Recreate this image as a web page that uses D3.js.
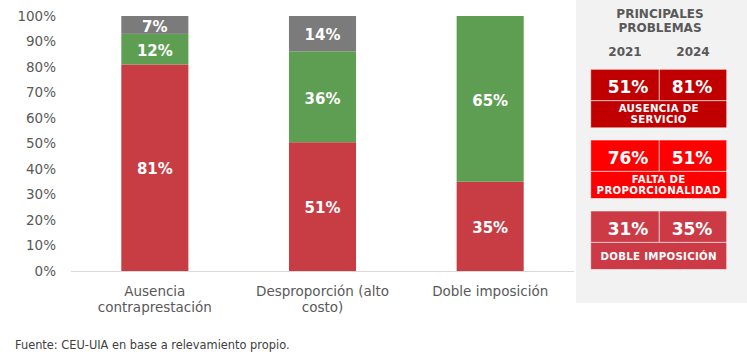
<!DOCTYPE html>
<html><head><meta charset="utf-8">
<script src="https://cdn.jsdelivr.net/npm/d3@7"></script>
<style>body{margin:0;background:#fff;}svg{display:block;font-family:"DejaVu Sans",Verdana,sans-serif;}</style>
</head><body>
<script>
const categories = [["Ausencia","contraprestación"],["Desproporción (alto","costo)"],["Doble imposición"]];
const redVals = [81, 51, 35];
const greenVals = [12, 36, 65];
const grayVals = [7, 14, 0];
const yTicks = [0,10,20,30,40,50,60,70,80,90,100];
const panelYears = ["2021","2024"];
const panelTitles = [["AUSENCIA DE","SERVICIO"],["FALTA DE","PROPORCIONALIDAD"],["DOBLE IMPOSICIÓN"]];
const panel2021 = [51, 76, 31];
const panel2024 = [81, 51, 35];
const panelColors = ["#C00000","#FF0000","#CC3A46"];

const W=747,H=352;
const svg=d3.select("body").append("svg").attr("width",W).attr("height",H);

const rows = categories.map((c,i)=>({key:i, red:redVals[i], green:greenVals[i], gray:grayVals[i]}));
const keys=["red","green","gray"];
const colors={red:"#C83C44",green:"#5E9E53",gray:"#7B7B7B"};
const stack=d3.stack().keys(keys).offset(d3.stackOffsetExpand)(rows);

const x=d3.scaleBand().domain(d3.range(categories.length)).range([71,574]).paddingInner(0.6).paddingOuter(0.3);
const y=d3.scaleLinear().domain([0,1]).range([271,16]);

// y axis labels
svg.append("g").selectAll("text").data(yTicks).join("text")
  .attr("x",56).attr("y",d=>y(d/100)).attr("dy","0.36em").attr("text-anchor","end")
  .attr("font-size",13.5).attr("fill","#595959").text(d=>d+"%");

// baseline
svg.append("line").attr("x1",71).attr("x2",574).attr("y1",y(0)+0.5).attr("y2",y(0)+0.5)
  .attr("stroke","#D9D9D9").attr("stroke-width",1);

const layers=svg.append("g").selectAll("g").data(stack).join("g").attr("fill",d=>colors[d.key]);
layers.selectAll("rect").data(d=>d).join("rect")
  .attr("x",(d,i)=>x(i)).attr("width",x.bandwidth())
  .attr("y",d=>y(d[1])).attr("height",d=>Math.max(0,y(d[0])-y(d[1])));

// value labels
stack.forEach(layer=>{
  svg.append("g").selectAll("text").data(layer.filter((d,i)=>d.data[layer.key]>0)).join("text")
    .attr("x",d=>x(d.data.key)+x.bandwidth()/2)
    .attr("y",d=>(y(d[0])+y(d[1]))/2).attr("dy","0.45em")
    .attr("text-anchor","middle").attr("font-size",15).attr("font-weight","bold").attr("fill","#fff")
    .text(d=>d.data[layer.key]+"%");
});

// category labels
categories.forEach((lines,i)=>{
  const t=svg.append("text").attr("text-anchor","middle").attr("font-size",13.5).attr("fill","#595959");
  lines.forEach((l,j)=>t.append("tspan").attr("x",x(i)+x.bandwidth()/2).attr("y",291+j*16.5).attr("dy","0.36em").text(l));
});

// footer
svg.append("text").attr("x",15).attr("y",344.5).attr("dy","0.36em").attr("font-size",11.4).attr("fill","#404040")
  .text("Fuente: CEU-UIA en base a relevamiento propio.");

// right panel
const P=svg.append("g");
P.append("rect").attr("x",576).attr("y",0).attr("width",W-576).attr("height",303).attr("fill","#F2F2F2");
P.append("text").attr("text-anchor","middle").attr("font-size",12).attr("font-weight","bold").attr("fill","#595959")
  .selectAll("tspan").data(["PRINCIPALES","PROBLEMAS"]).join("tspan")
  .attr("x",660).attr("y",(d,i)=>13.5+i*14.2).attr("dy","0.36em").text(d=>d);
const cx=[625,693];
P.selectAll("text.yr").data(panelYears).join("text").attr("class","yr")
  .attr("x",(d,i)=>cx[i]).attr("y",51.7).attr("dy","0.36em").attr("text-anchor","middle")
  .attr("font-size",12).attr("font-weight","bold").attr("fill","#595959").text(d=>d);

const boxTops=[69.3,140,211];
const bx0=590.7,bx1=726.7,bmid=659.3;
panelTitles.forEach((title,i)=>{
  const top=boxTops[i], mid=top+31.4, bot=top+58.5;
  const g=P.append("g");
  const stroke="rgba(255,255,255,0.55)";
  g.append("rect").attr("x",bx0).attr("y",top).attr("width",bmid-bx0).attr("height",mid-top).attr("fill",panelColors[i]).attr("stroke",stroke).attr("stroke-width",1);
  g.append("rect").attr("x",bmid).attr("y",top).attr("width",bx1-bmid).attr("height",mid-top).attr("fill",panelColors[i]).attr("stroke",stroke).attr("stroke-width",1);
  g.append("rect").attr("x",bx0).attr("y",mid).attr("width",bx1-bx0).attr("height",bot-mid).attr("fill",panelColors[i]).attr("stroke",stroke).attr("stroke-width",1);
  [panel2021[i],panel2024[i]].forEach((v,j)=>{
    g.append("text").attr("x",j===0?628:692).attr("y",top+18).attr("dy","0.36em").attr("text-anchor","middle")
      .attr("font-size",17).attr("font-weight","bold").attr("fill","#fff").text(v+"%");
  });
  const n=title.length;
  const t=g.append("text").attr("text-anchor","middle").attr("font-size",10.2).attr("font-weight","bold").attr("fill","#fff").attr("letter-spacing",0.3);
  title.forEach((l,j)=>t.append("tspan").attr("x",bx0+(bx1-bx0)/2).attr("y",(mid+bot)/2+(j-(n-1)/2)*10.9).attr("dy","0.36em").text(l));
});
</script>
</body></html>
